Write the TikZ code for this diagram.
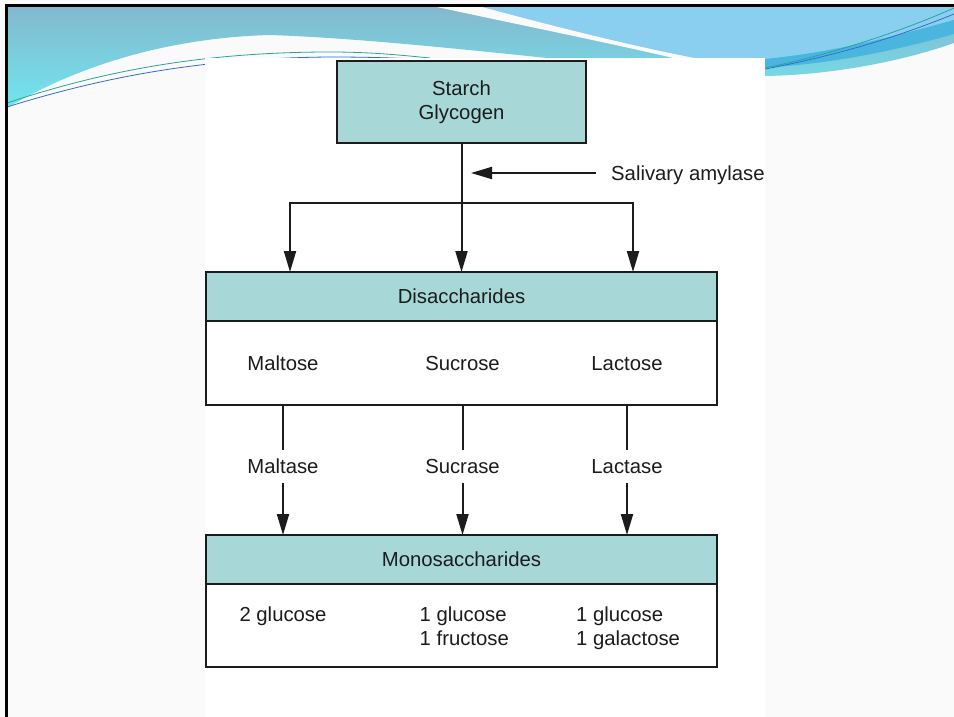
\documentclass[tikz,border=0pt]{standalone}
\usepackage{fontspec}
\setmainfont{Liberation Sans}
\usetikzlibrary{arrows.meta}
\definecolor{teal1}{RGB}{167,215,215}
\definecolor{ink}{RGB}{28,28,28}
\definecolor{swA1}{RGB}{132,184,206}
\definecolor{swA2}{RGB}{112,230,240}
\definecolor{swB}{RGB}{139,207,240}
\definecolor{swD}{RGB}{74,182,224}
\definecolor{lnT}{RGB}{40,165,150}
\definecolor{lnB}{RGB}{50,110,205}
\definecolor{slide}{RGB}{250,250,250}
\begin{document}
\begin{tikzpicture}[x=1pt,y=-1pt,
  every node/.style={font=\fontsize{20.3}{24}\selectfont, text=ink, inner sep=0pt},
  hbox/.style={draw=ink, line width=2pt, fill=teal1, minimum width=511pt, outer sep=0pt},
  bbox/.style={draw=ink, line width=2pt, fill=white, minimum width=511pt, outer sep=0pt},
  conn/.style={draw=ink, line width=2pt},
  tipp/.tip={Triangle[length=21pt,width=12pt]},
  arr/.style={conn, -tipp},
  lbl/.style={minimum height=33pt, text height=14.5pt, text depth=0pt},
  txt/.style={text height=14.5pt, text depth=0pt}
]
\useasboundingbox (0,0) rectangle (954,717);
\fill[slide] (0,0) rectangle (954,717);
% slide swoosh
\shade[top color=swA1, bottom color=swA2] (7,7) -- (954,7) -- (954,43)
  .. controls (900,62) and (830,75) .. (765,76)
  .. controls (640,72) and (420,40) .. (270,35)
  .. controls (160,38) and (70,70) .. (7,108) -- cycle;
\fill[swB] (482,7) -- (954,7) -- (954,22) .. controls (890,40) and (820,58) .. (765,62)
  -- (705,60) .. controls (640,48) and (560,28) .. (482,7) -- cycle;
\fill[slide] (437,7) -- (482,7) .. controls (560,28) and (640,48) .. (705,60)
  -- (690,62) .. controls (620,45) and (520,25) .. (437,7) -- cycle;
\fill[swD] (700,62) .. controls (800,62) and (880,40) .. (954,20) -- (954,34)
  .. controls (880,55) and (800,70) .. (720,68) -- cycle;
\draw[lnT, line width=0.8pt] (7,103) .. controls (100,72) and (200,52) .. (330,52) .. controls (370,52) and (400,55) .. (430,58);
\draw[lnB, line width=0.8pt] (7,107) .. controls (100,78) and (200,58) .. (330,57) .. controls (370,57) and (400,58) .. (430,60);
\draw[lnT, line width=0.8pt] (760,69) .. controls (830,55) and (900,32) .. (954,8);
\draw[lnB, line width=0.8pt] (760,70) .. controls (840,55) and (900,36) .. (954,14);
% figure area
\fill[white] (205,58) rectangle (765,717);
\draw[black, line width=3pt] (6,717) -- (6,5.5) -- (954,5.5);
% diagram
\node[draw=ink, line width=2pt, fill=teal1, outer sep=0pt, minimum width=249pt, minimum height=82pt, align=center] (starch) at (461.5,102) {Starch\\Glycogen};
\node[hbox, minimum height=49pt] (disH) at (461.5,296.5) {Disaccharides};
\node[bbox, minimum height=84pt, anchor=north] (disB) at (disH.south) {};
\node[txt] (maltose) at (283,363) {Maltose};
\node[txt] (sucrose) at (462.5,363) {Sucrose};
\node[txt] (lactose) at (627,363) {Lactose};
\node[hbox, minimum height=49pt] (monoH) at (461.5,559.5) {Monosaccharides};
\node[bbox, minimum height=83pt, anchor=north] (monoB) at (monoH.south) {};
\node[lbl] (maltase) at (283,466.5) {Maltase};
\node[lbl] (sucrase) at (462.5,466.5) {Sucrase};
\node[lbl] (lactase) at (627,466.5) {Lactase};
\node[anchor=base] (p1) at (283,621.5) {2 glucose};
\node[anchor=base west] (p2a) at (419.5,621.5) {1 glucose};
\node[anchor=base west] (p2b) at (419.5,645.5) {1 fructose};
\node[anchor=base west] (p3a) at (576,621.5) {1 glucose};
\node[anchor=base west] (p3b) at (576,645.5) {1 galactose};
\node[txt, anchor=west] (sal) at (611,173) {Salivary amylase};
% connectors
\coordinate (salTip) at (471,173);
\coordinate (bL) at (290,203);
\coordinate (bR) at (633,203);
\draw[arr] (starch.south) -- (starch.south |- disH.north);
\draw[conn, tipp-tipp] (bL |- disH.north) -- (bL) -- (bR) -- (bR |- disH.north);
\draw[arr] ([xshift=-15pt]sal.west) -- (salTip);
\foreach \n in {maltase,sucrase,lactase}{
  \draw[conn] (\n |- disB.south) -- (\n.north);
  \draw[arr] (\n.south) -- (\n |- monoH.north);
}
\end{tikzpicture}
\end{document}
